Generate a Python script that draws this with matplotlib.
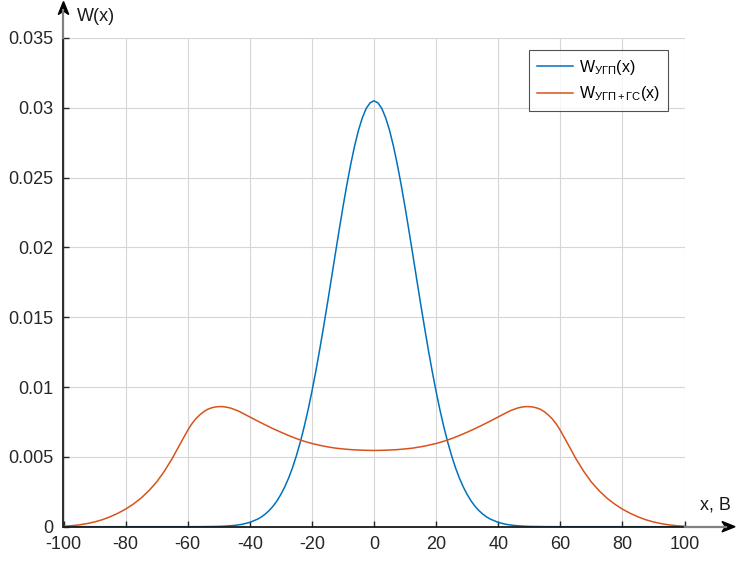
import matplotlib
matplotlib.use('Agg')
from matplotlib import pyplot as plt
from matplotlib.patches import Polygon
from matplotlib.lines import Line2D

plt.rcParams['font.family'] = ['Liberation Sans', 'DejaVu Sans']
plt.rcParams['mathtext.fontset'] = 'custom'
plt.rcParams['mathtext.rm'] = 'Liberation Sans'
plt.rcParams['mathtext.it'] = 'Liberation Sans'
plt.rcParams['axes.unicode_minus'] = False

# W_UGP(x) - noise only
x_blue = [-100, -80, -60, -55, -50, -47.5, -45, -42.5, -40, -37.5, -36.25, -35, -33.75,
          -32.5, -31.25, -30, -28.75, -27.5, -26.25, -25, -23.75, -22.5, -21.25, -20,
          -18.75, -17.5, -16.25, -15, -13.75, -12.5, -11.25, -10, -8.75, -7.5, -6.25,
          -5, -3.75, -2.5, -1.25, 0, 1.25, 2.5, 3.75, 5, 6.25, 7.5, 8.75, 10, 11.25,
          12.5, 13.75, 15, 16.25, 17.5, 18.75, 20, 21.25, 22.5, 23.75, 25, 26.25,
          27.5, 28.75, 30, 31.25, 32.5, 33.75, 35, 36.25, 37.5, 40, 42.5, 45, 47.5,
          50, 55, 60, 80, 100]
w_blue = [0.0, 0.0, 0.0, 0.000005, 0.00002, 0.000047, 0.00009, 0.00017, 0.00031,
          0.00054, 0.00070, 0.00091, 0.00116, 0.00147, 0.00185, 0.00231, 0.00285,
          0.00348, 0.00422, 0.00508, 0.00605, 0.00714, 0.00835, 0.00968, 0.01112,
          0.01267, 0.01430, 0.01599, 0.01773, 0.01948, 0.02121, 0.02289, 0.02448,
          0.02595, 0.02727, 0.02839, 0.02929, 0.02996, 0.03036, 0.03050, 0.03036,
          0.02996, 0.02929, 0.02839, 0.02727, 0.02595, 0.02448, 0.02289, 0.02121,
          0.01948, 0.01773, 0.01599, 0.01430, 0.01267, 0.01112, 0.00968, 0.00835,
          0.00714, 0.00605, 0.00508, 0.00422, 0.00348, 0.00285, 0.00231, 0.00185,
          0.00147, 0.00116, 0.00091, 0.00070, 0.00054, 0.00031, 0.00017, 0.00009,
          0.000047, 0.00002, 0.000005, 0.0, 0.0, 0.0]

# W_UGP+GS(x) - noise plus harmonic signal
x_orange = [-100, -97.5, -95, -92.5, -90, -87.5, -85, -82.5, -80, -77.5, -75, -72.5,
            -70, -67.5, -65, -62.5, -60, -58.75, -57.5, -56.25, -55, -53.75, -52.5,
            -51.25, -50, -48.75, -47.5, -46.25, -45, -43.75, -42.5,
            -40, -37.5, -35, -32.5, -30, -27.5, -25, -22.5, -20, -17.5, -15, -12.5,
            -10, -7.5, -5, -2.5, 0, 2.5, 5, 7.5, 10, 12.5, 15, 17.5, 20, 22.5, 25,
            27.5, 30, 32.5, 35, 37.5, 40, 42.5, 43.75, 45, 46.25, 47.5, 48.75, 50,
            51.25, 52.5, 53.75, 55, 56.25, 57.5, 58.75, 60,
            62.5, 65, 67.5, 70, 72.5, 75, 77.5, 80, 82.5, 85, 87.5, 90, 92.5, 95,
            97.5, 100]
w_orange = [0.00003, 0.00007, 0.00013, 0.00022, 0.00034, 0.00050, 0.00071, 0.00096,
            0.00126, 0.00162, 0.00205, 0.00258, 0.00320, 0.00398, 0.00488, 0.00590,
            0.00690, 0.00734, 0.00770, 0.00798, 0.00821, 0.00839, 0.00850,
            0.00857, 0.00860, 0.00860, 0.00856, 0.00850, 0.00840, 0.00829, 0.00815,
            0.00786, 0.00757, 0.00729, 0.00702, 0.00677, 0.00653, 0.00631, 0.00612,
            0.00596, 0.00583, 0.00572, 0.00563, 0.00557, 0.00552, 0.00549, 0.00547,
            0.00546, 0.00547, 0.00549, 0.00552, 0.00557, 0.00563, 0.00572, 0.00583,
            0.00596, 0.00612, 0.00631, 0.00653, 0.00677, 0.00702, 0.00729, 0.00757,
            0.00786, 0.00815, 0.00829, 0.00840, 0.00850, 0.00856, 0.00860, 0.00860,
            0.00857, 0.00850, 0.00839, 0.00821, 0.00798, 0.00770, 0.00734, 0.00690,
            0.00590, 0.00488, 0.00398, 0.00320, 0.00258, 0.00205, 0.00162,
            0.00126, 0.00096, 0.00071, 0.00050, 0.00034, 0.00022, 0.00013, 0.00007,
            0.00003]

x_ticks = [-100, -80, -60, -40, -20, 0, 20, 40, 60, 80, 100]
x_ticklabels = ['-100', '-80', '-60', '-40', '-20', '0', '20', '40', '60', '80', '100']
y_ticks = [0, 0.005, 0.01, 0.015, 0.02, 0.025, 0.03, 0.035]
y_ticklabels = ['0', '0.005', '0.01', '0.015', '0.02', '0.025', '0.03', '0.035']

W, H = 744, 563
fig = plt.figure(figsize=(W / 100, H / 100), dpi=100)
ax = fig.add_axes([63.5 / W, 1 - 526.7 / H, (684.5 - 63.5) / W, (526.7 - 38) / H])

ax.plot(x_blue, w_blue, color='#0072BD', lw=1.1, label=r'W$_{\mathrm{УГП}}$(x)')
ax.plot(x_orange, w_orange, color='#D95319', lw=1.1, label=r'W$_{\mathrm{УГП+ГС}}$(x)')

ax.set_xlim(-100, 100)
ax.set_ylim(0, 0.035)
ax.set_xticks(x_ticks)
ax.set_xticklabels(x_ticklabels)
ax.set_yticks(y_ticks)
ax.set_yticklabels(y_ticklabels)
ax.tick_params(direction='in', length=4, width=1, colors='#262626', labelsize=13, pad=7)
ax.grid(True, color='#d6d6d6', lw=0.8)
ax.set_axisbelow(True)
for s in ['top', 'right']:
    ax.spines[s].set_visible(False)
for s in ['left', 'bottom']:
    ax.spines[s].set_color('#1a1a1a')
    ax.spines[s].set_linewidth(1.3)

# axis extensions with arrows (MATLAB-like)
def fp(px, py):
    return px / W, 1 - py / H

gx = [fp(684.5, 526.7), fp(726, 526.7)]
fig.add_artist(Line2D([gx[0][0], gx[1][0]], [gx[0][1], gx[1][1]], color='#808080', lw=1.6))
gy = [fp(63.5, 38), fp(63.5, 10)]
fig.add_artist(Line2D([gy[0][0], gy[1][0]], [gy[0][1], gy[1][1]], color='#808080', lw=1.6))
fig.add_artist(Polygon([fp(735, 526.7), fp(722, 521.5), fp(725.5, 526.7), fp(722, 531.9)],
                       closed=True, color='black', transform=fig.transFigure))
fig.add_artist(Polygon([fp(63.5, 1.5), fp(58.3, 14.5), fp(63.5, 11), fp(68.7, 14.5)],
                       closed=True, color='black', transform=fig.transFigure))

fig.text(77 / W, 1 - 16.5 / H, 'W(x)', fontsize=13, ha='left', va='center', color='#1a1a1a')
fig.text(700 / W, 1 - 505 / H, 'x, B', fontsize=13, ha='left', va='center', color='#1a1a1a')

leg = ax.legend(loc='upper right', bbox_to_anchor=fp(668, 50), bbox_transform=fig.transFigure,
                borderaxespad=0, fancybox=False, edgecolor='#262626', fontsize=11.5,
                handlelength=2.2, handletextpad=0.4, borderpad=0.5, labelspacing=0.45)
leg.get_frame().set_linewidth(0.8)

fig.savefig('out.png', dpi=100)
